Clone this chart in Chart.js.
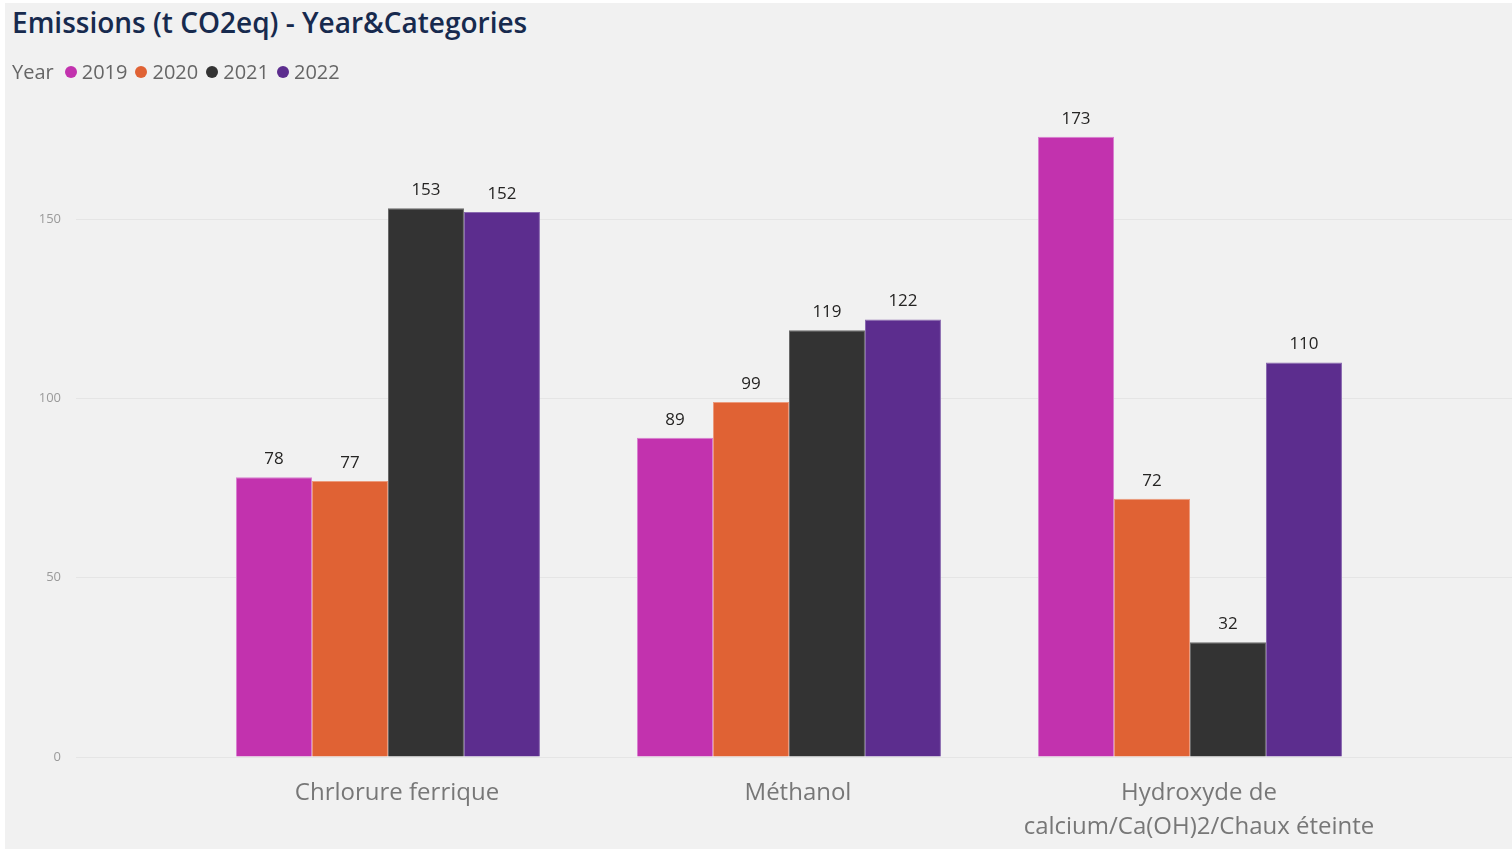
<!DOCTYPE html>
<html>
<head>
<meta charset="utf-8">
<script src="https://cdn.jsdelivr.net/npm/chart.js@4.4.1/dist/chart.umd.min.js"></script>
<style>
  html, body { margin: 0; padding: 0; background: #ffffff; }
  #panel {
    position: absolute; left: 5px; top: 3px; width: 1507px; height: 846px;
    background: #f1f1f1; overflow: hidden;
  }
  #title {
    position: absolute; left: 7px; top: 0px; margin: 0; z-index: 2;
    font: 600 28px "Open Sans", sans-serif; color: #172a4e; white-space: nowrap;
  }
  #legend {
    position: absolute; left: 7px; top: 55px; display: flex; align-items: center; z-index: 2;
    font: 20px "Open Sans", sans-serif; color: #666666; white-space: nowrap;
  }
  #legend .head { margin-right: 11px; }
  #legend .item { display: flex; align-items: center; margin-right: 8px; }
  #legend .dot { width: 12px; height: 12px; border-radius: 50%; margin-right: 5px; }
  #wrap { position: absolute; left: 0; top: 75px; width: 1507px; height: 771px; }
</style>
</head>
<body>
<div id="panel">
  <h1 id="title">Emissions (t CO2eq) - Year&amp;Categories</h1>
  <div id="legend"><span class="head">Year</span></div>
  <div id="wrap"><canvas id="emissionsChart"></canvas></div>
</div>
<script>
// Categories and yearly emissions (t CO2eq)
const categories = [
    'Chrlorure ferrique',
    'Méthanol',
    ['Hydroxyde de', 'calcium/Ca(OH)2/Chaux éteinte']
];
const years = ['2019', '2020', '2021', '2022'];
const values2019 = [78, 89, 173];
const values2020 = [77, 99, 72];
const values2021 = [153, 119, 32];
const values2022 = [152, 122, 110];
const yTicks = [0, 50, 100, 150];

const fills = ['#c232ae', '#e06234', '#333333', '#5c2d8e'];
const edges = ['#d77fcf', '#ec9a7c', '#6a6a6a', '#8a6ab0'];
const series = [values2019, values2020, values2021, values2022];

// Legend row built from the same series list
const legendEl = document.getElementById('legend');
years.forEach((year, i) => {
    const item = document.createElement('span');
    item.className = 'item';
    const dot = document.createElement('span');
    dot.className = 'dot';
    dot.style.background = fills[i];
    item.appendChild(dot);
    item.appendChild(document.createTextNode(year));
    legendEl.appendChild(item);
});

// Value labels above each bar
const valueLabels = {
    id: 'valueLabels',
    afterDatasetsDraw(chart) {
        const ctx = chart.ctx;
        ctx.save();
        ctx.font = '17px "Open Sans", sans-serif';
        ctx.fillStyle = '#252423';
        ctx.textAlign = 'center';
        ctx.textBaseline = 'middle';
        chart.data.datasets.forEach((ds, i) => {
            chart.getDatasetMeta(i).data.forEach((bar, j) => {
                ctx.fillText(String(ds.data[j].y), bar.x, bar.y - 18);
            });
        });
        ctx.restore();
    }
};

const ctx = document.getElementById('emissionsChart').getContext('2d');
const emissionsChart = new Chart(ctx, {
    type: 'bar',
    data: {
        datasets: years.map((year, i) => ({
            label: year,
            data: series[i].map((v, j) => ({ x: j, y: v })),
            backgroundColor: fills[i],
            borderColor: edges[i],
            borderWidth: 1,
            barPercentage: 1,
            categoryPercentage: 0.758
        }))
    },
    options: {
        responsive: true,
        maintainAspectRatio: false,
        animation: false,
        layout: { padding: { top: 7, right: 0, left: 0, bottom: 0 } },
        plugins: {
            legend: { display: false },
            title: { display: false },
            tooltip: { enabled: false }
        },
        scales: {
            x: {
                type: 'linear',
                offset: false,
                min: -0.778,
                max: 2.803,
                grid: { display: false },
                border: { display: false },
                ticks: {
                    stepSize: 1,
                    includeBounds: false,
                    autoSkip: false,
                    maxRotation: 0,
                    padding: 11,
                    labelOffset: 9,
                    color: '#777777',
                    font: { family: '"Open Sans", sans-serif', size: 24, lineHeight: 1.42 },
                    callback: v => (Number.isInteger(v) && categories[v] !== undefined) ? categories[v] : ''
                },
                afterFit: scale => { scale.height = 92; }
            },
            y: {
                min: 0,
                max: 183,
                grid: { color: '#e5e5e5', drawTicks: false },
                border: { display: false },
                afterBuildTicks: scale => { scale.ticks = yTicks.map(v => ({ value: v })); },
                ticks: {
                    includeBounds: false,
                    padding: 15,
                    color: '#9a9a9a',
                    font: { family: '"Open Sans", sans-serif', size: 13 }
                },
                afterFit: scale => { scale.width = 71; }
            }
        }
    },
    plugins: [valueLabels]
});
</script>
</body>
</html>
